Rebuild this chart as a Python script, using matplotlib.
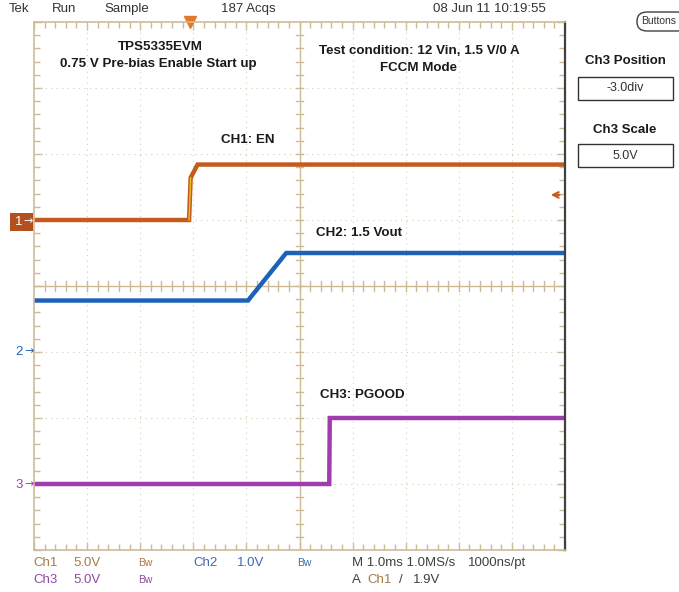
import matplotlib.pyplot as plt
from matplotlib.patches import Rectangle, FancyBboxPatch
from matplotlib.ticker import MultipleLocator

W, H = 679, 592

# time in ms (M 1.0ms/div), levels in volts
ch1_t = [0.0, 2.92, 2.95, 3.08, 10.0]
ch1_v = [0.0, 0.0, 3.2, 4.2, 4.2]
ch2_t = [0.0, 4.03, 4.75, 10.0]
ch2_v = [0.78, 0.78, 1.50, 1.50]
ch3_t = [0.0, 5.56, 5.57, 10.0]
ch3_v = [0.0, 0.0, 5.0, 5.0]

# channel settings: volts/div and ground position in div
ch_scale = {"ch1": 5.0, "ch2": 1.0, "ch3": 5.0}
ch_pos = {"ch1": 1.0, "ch2": -1.0, "ch3": -3.0}
trig_level = 1.9
trig_time = 2.94

c_ch1 = "#C45A1E"
c_ch2 = "#1E62B8"
c_ch3 = "#A03CB0"
c_ch1_txt = "#A87A4C"
c_ch2_txt = "#3A6CB4"
c_ch3_txt = "#8E4AA2"
tan = "#CDBB98"
narrow = ["Liberation Sans", "DejaVu Sans"]
boldf = ["Liberation Sans", "DejaVu Sans"]


def px(x, y):
    return x / W, 1 - y / H


def to_div(v, ch):
    return [ch_pos[ch] + a / ch_scale[ch] for a in v]


fig = plt.figure(figsize=(W / 100, H / 100), dpi=100)
ax = fig.add_axes([34 / W, 1 - 550 / H, 531 / W, 528 / H])
ax.set_xlim(0, 10)
ax.set_ylim(-4, 4)

# graticule
for i in range(1, 10):
    if i != 5:
        ax.axvline(i, color="#D8CCB4", lw=0.8, ls=(0, (1, 4)))
for j in range(-3, 4):
    if j != 0:
        ax.axhline(j, color="#D8CCB4", lw=0.8, ls=(0, (1, 4)))
ax.axvline(5, color=tan, lw=1)
ax.axhline(0, color=tan, lw=1)
for k in range(1, 50):
    x = k * 0.2
    ax.plot([x, x], [-0.07, 0.07], color=tan, lw=1)
for k in range(1, 40):
    y = -4 + k * 0.2
    ax.plot([4.93, 5.07], [y, y], color=tan, lw=1)

ax.xaxis.set_major_locator(MultipleLocator(1))
ax.xaxis.set_minor_locator(MultipleLocator(0.2))
ax.yaxis.set_major_locator(MultipleLocator(1))
ax.yaxis.set_minor_locator(MultipleLocator(0.2))
ax.tick_params(which="both", direction="in", top=True, right=True,
               labelleft=False, labelbottom=False, color=tan, width=1)
ax.tick_params(which="major", length=6)
ax.tick_params(which="minor", length=4)
for s in ["left", "top", "bottom"]:
    ax.spines[s].set_color(tan)
    ax.spines[s].set_linewidth(1.2)
ax.spines["right"].set_color("#404040")
ax.spines["right"].set_linewidth(1.6)

# traces
ax.plot(ch3_t, to_div(ch3_v, "ch3"), color=c_ch3, lw=3.2, solid_joinstyle="miter")
ax.plot(ch2_t, to_div(ch2_v, "ch2"), color=c_ch2, lw=3.2, solid_joinstyle="miter")
ax.plot(ch1_t, to_div(ch1_v, "ch1"), color=c_ch1, lw=3.2, solid_joinstyle="miter")
ax.plot(ch1_t[1:3], to_div(ch1_v[1:3], "ch1"), color="#E8C020", lw=1)

# trigger markers
ax.plot([trig_time], [4], marker="v", color="#E07A2A", ms=8, clip_on=False)
ax.annotate("", xy=(9.68, ch_pos["ch1"] + trig_level / ch_scale["ch1"]),
            xytext=(9.95, ch_pos["ch1"] + trig_level / ch_scale["ch1"]),
            arrowprops=dict(arrowstyle="->", color=c_ch1, lw=1.5))

# annotations inside graticule
ann = dict(fontsize=9.6, fontweight="bold", family=boldf, color="#1A1A1A",
           ha="center", va="center")
fig.text(*px(160, 47), "TPS5335EVM", **ann)
fig.text(*px(158, 64), "0.75 V Pre-bias Enable Start up", **ann)
fig.text(*px(419, 51), "Test condition: 12 Vin, 1.5 V/0 A", **ann)
fig.text(*px(419, 68), "FCCM Mode", **ann)
fig.text(*px(248, 140), "CH1: EN", **ann)
fig.text(*px(359, 233), "CH2: 1.5 Vout", **ann)
fig.text(*px(362, 395), "CH3: PGOOD", **ann)

# top status bar
top = dict(fontsize=9.5, family=narrow, color="#333333", va="center")
fig.text(*px(9, 9), "Tek", **top)
fig.text(*px(52, 9), "Run", **top)
fig.text(*px(104, 9), "Sample", **top)
fig.text(*px(221, 9), "187 Acqs", **top)
fig.text(*px(433, 9), "08 Jun 11 10:19:55", **top)

# right side panel
fig.patches.append(FancyBboxPatch(px(637, 31), 50 / W, 19 / H,
                                  boxstyle="round,pad=0,rounding_size=0.015",
                                  transform=fig.transFigure, fill=False,
                                  ec="#404040", lw=1))
fig.text(*px(641, 21), "Buttons", fontsize=7.5, family=narrow, color="#333333", va="center")
fig.text(*px(625, 61), "Ch3 Position", fontsize=9.5, fontweight="bold",
         family=boldf, color="#1A1A1A", ha="center", va="center")
fig.patches.append(Rectangle(px(578, 100), 95 / W, 23 / H, transform=fig.transFigure,
                             fill=False, ec="#333333", lw=1))
fig.text(*px(625, 88), "-3.0div", fontsize=9, family=narrow, color="#333333",
         ha="center", va="center")
fig.text(*px(625, 130), "Ch3 Scale", fontsize=9.5, fontweight="bold",
         family=boldf, color="#1A1A1A", ha="center", va="center")
fig.patches.append(Rectangle(px(578, 167), 95 / W, 23 / H, transform=fig.transFigure,
                             fill=False, ec="#333333", lw=1))
fig.text(*px(625, 156), "5.0V", fontsize=9, family=narrow, color="#333333",
         ha="center", va="center")

# ground markers on the left
fig.patches.append(Rectangle(px(10, 231), 23 / W, 18 / H, transform=fig.transFigure,
                             color="#B4501E", lw=0))
fig.text(*px(15, 222), "1", fontsize=9.5, family=narrow, color="white", va="center")
fig.text(*px(23, 221), "\u2192", fontsize=8, color="white", va="center")
fig.text(*px(15, 352), "2", fontsize=9.5, family=narrow, color=c_ch2, va="center")
fig.text(*px(24, 351), "\u2192", fontsize=8, color=c_ch2, va="center")
fig.text(*px(15, 485), "3", fontsize=9.5, family=narrow, color=c_ch3, va="center")
fig.text(*px(24, 484), "\u2192", fontsize=8, color=c_ch3, va="center")

# bottom status
bot = dict(fontsize=9.5, family=narrow, va="center")
bw = dict(fontsize=7.5, family=narrow, va="center")
fig.text(*px(33, 563), "Ch1", color=c_ch1_txt, **bot)
fig.text(*px(73, 563), "5.0V", color=c_ch1_txt, **bot)
fig.text(*px(138, 563), "Bw", color=c_ch1_txt, **bw)
fig.text(*px(193, 563), "Ch2", color=c_ch2_txt, **bot)
fig.text(*px(237, 563), "1.0V", color=c_ch2_txt, **bot)
fig.text(*px(297, 563), "Bw", color=c_ch2_txt, **bw)
fig.text(*px(352, 563), "M 1.0ms 1.0MS/s", color="#404040", **bot)
fig.text(*px(468, 563), "1000ns/pt", color="#404040", **bot)
fig.text(*px(33, 580), "Ch3", color=c_ch3_txt, **bot)
fig.text(*px(73, 580), "5.0V", color=c_ch3_txt, **bot)
fig.text(*px(138, 580), "Bw", color=c_ch3_txt, **bw)
fig.text(*px(352, 580), "A", color="#404040", **bot)
fig.text(*px(367, 580), "Ch1", color=c_ch1_txt, **bot)
fig.text(*px(399, 580), "/", color="#404040", **bot)
fig.text(*px(413, 580), "1.9V", color="#404040", **bot)

fig.savefig("out.png", dpi=100)
